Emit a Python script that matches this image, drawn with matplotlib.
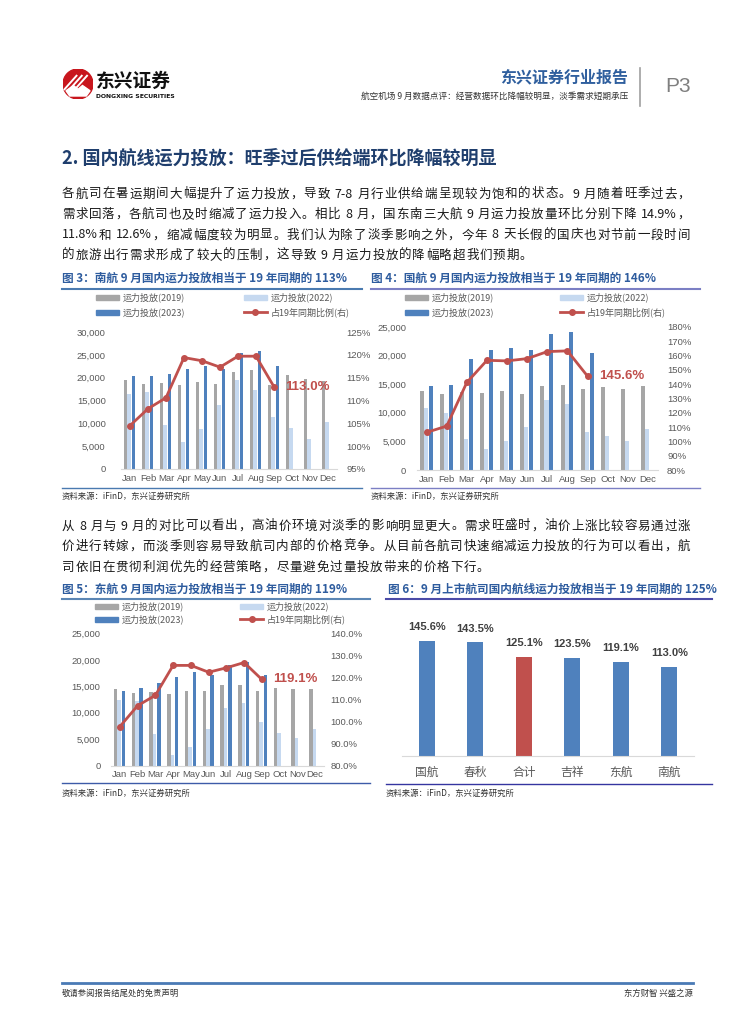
import re
import numpy as np
import matplotlib
matplotlib.use('Agg')
import matplotlib.pyplot as plt
from matplotlib.patches import Circle, Rectangle
from matplotlib.lines import Line2D

plt.rcParams['font.family'] = ['Noto Sans CJK SC', 'DejaVu Sans']

# ---- data ----
months = ['Jan', 'Feb', 'Mar', 'Apr', 'May', 'Jun', 'Jul', 'Aug', 'Sep', 'Oct', 'Nov', 'Dec']

# 南航
csa_2019 = [19500, 18700, 18900, 18300, 19000, 18700, 21200, 21600, 18500, 20600, 19600, 19300]
csa_2022 = [16500, 16800, 9600, 6000, 8700, 14000, 19500, 17200, 11400, 8900, 6600, 10200]
csa_2023 = [20300, 20300, 20700, 21800, 22600, 21800, 25500, 25800, 22500]
csa_ratio = [104.5, 108.2, 110.6, 119.4, 118.7, 117.3, 119.7, 119.7, 113.0]

# 国航
ca_2019 = [13800, 13250, 13700, 13400, 13800, 13300, 14600, 14800, 14100, 14500, 14100, 14600]
ca_2022 = [10800, 10000, 5500, 3600, 5000, 7600, 12300, 11500, 6700, 6000, 5100, 7100]
ca_2023 = [14600, 14800, 19400, 20900, 21400, 20900, 23700, 24100, 20400]
ca_ratio = [106.3, 110.7, 141.2, 156.7, 156.3, 157.9, 162.8, 163.3, 145.6]

# 东航
mu_2019 = [14550, 13700, 13850, 13500, 14200, 14100, 15300, 15300, 14200, 14700, 14400, 14400]
mu_2022 = [12400, 12150, 6000, 2000, 3500, 6900, 10800, 11800, 8250, 6100, 5200, 6900]
mu_2023 = [14200, 14700, 15600, 16700, 17800, 17100, 19000, 19600, 17100]
mu_ratio = [97.7, 107.2, 111.9, 125.5, 125.5, 122.4, 124.4, 126.8, 119.1]

# 9月各航司
airlines = ['国航', '春秋', '合计', '吉祥', '东航', '南航']
sep_ratio = [145.6, 143.5, 125.1, 123.5, 119.1, 113.0]

legend_labels = ['运力投放(2019)', '运力投放(2022)', '运力投放(2023)', '占19年同期比例(右)']

para1 = ['各航司在暑运期间大幅提升了运力投放，导致 7-8 月行业供给端呈现较为饱和的状态。9 月随着旺季过去，',
         '需求回落，各航司也及时缩减了运力投入。相比 8 月，国东南三大航 9 月运力投放量环比分别下降 14.9%，',
         '11.8%和 12.6%，缩减幅度较为明显。我们认为除了淡季影响之外，今年 8 天长假的国庆也对节前一段时间',
         '的旅游出行需求形成了较大的压制，这导致 9 月运力投放的降幅略超我们预期。']
para2 = ['从 8 月与 9 月的对比可以看出，高油价环境对淡季的影响明显更大。需求旺盛时，油价上涨比较容易通过涨',
         '价进行转嫁，而淡季则容易导致航司内部的价格竞争。从目前各航司快速缩减运力投放的行为可以看出，航',
         '司依旧在贯彻利润优先的经营策略，尽量避免过量投放带来的价格下行。']

C19, C22, C23, RED = '#A6A6A6', '#C6D9F0', '#4F81BD', '#C0504D'
TITLE_C = '#2E5C9E'
GREY_T = '#595959'

W, H = 755, 1024
fig = plt.figure(figsize=(7.55, 10.24), dpi=100)
renderer = fig.canvas.get_renderer()


def fx(x):
    return x / W


def fy(y):
    return 1 - y / H


def txt(x, y, s, **kw):
    return fig.text(fx(x), fy(y), s, **kw)


def hline(x0, x1, y, color, lw=1.0):
    fig.add_artist(Line2D([fx(x0), fx(x1)], [fy(y), fy(y)], color=color, lw=lw))


def axes_px(x0, x1, y0, y1):
    return fig.add_axes([fx(x0), fy(y1), (x1 - x0) / W, (y1 - y0) / H])


def body_line(s, y, x0=62, x1=None, gap=2.0, size=9):
    # spread tokens so the line fills x0..x1 like the justified original
    toks = re.findall(r'[0-9A-Za-z.%\-]+| |.', s)
    ts = [txt(x0, y, t, fontsize=size, va='center', color='#1a1a1a') for t in toks]
    ws = [t.get_window_extent(renderer).width for t in ts]
    if x1 is not None:
        gap = (x1 - x0 - sum(ws)) / (len(ts) - 1)
    x = x0
    for t, w in zip(ts, ws):
        t.set_x(fx(x))
        x += w + gap
    return gap


def legend_px(xa, xb, ya, yb):
    spots = [(xa, ya), (xb, ya), (xa, yb), (xb, yb)]
    for i, ((x, y), lab) in enumerate(zip(spots, legend_labels)):
        if i < 3:
            fig.add_artist(Rectangle((fx(x), fy(y + 2.5)), 23 / W, 5 / H,
                                     color=[C19, C22, C23][i], transform=fig.transFigure))
        else:
            fig.add_artist(Line2D([fx(x), fx(x + 23)], [fy(y), fy(y)], color=RED, lw=2))
            fig.add_artist(Line2D([fx(x + 11.5)], [fy(y)], color=RED, marker='o', ms=4))
        txt(x + 27, y, lab, fontsize=6.5, color=GREY_T, va='center')


def capacity_chart(box, v19, v22, v23, ratio, ymax, rlim, rstep, rfmt, lpad, rpad):
    ax = axes_px(*box)
    x = np.arange(12)
    ax.bar(x - 0.24, v19, 0.2, color=C19)
    ax.bar(x - 0.04, v22, 0.2, color=C22)
    ax.bar(np.arange(len(v23)) + 0.2, v23, 0.2, color=C23)
    ax.set_xlim(-0.5, 11.5)
    ax.set_ylim(0, ymax)
    ax.set_yticks(np.arange(0, ymax + 1, 5000))
    ax.yaxis.set_major_formatter(lambda v, p: f'{v:,.0f}')
    ax.set_xticks(x, months)

    ax2 = ax.twinx()
    ax2.plot(np.arange(len(ratio)), ratio, color=RED, lw=2, marker='o', ms=4)
    ax2.set_ylim(*rlim)
    ax2.set_yticks(np.arange(rlim[0], rlim[1] + 0.01, rstep))
    ax2.yaxis.set_major_formatter(lambda v, p: rfmt.format(v))
    ax2.annotate(f'{ratio[-1]:.1f}%', (len(ratio) - 1, ratio[-1]), xytext=(8, 0),
                 textcoords='offset points', ha='left', va='center', color=RED,
                 fontweight='bold', fontsize=9.5, family='Liberation Sans')

    for a in (ax, ax2):
        for s in a.spines.values():
            s.set_visible(False)
        a.tick_params(length=0, labelsize=6.8, labelcolor=GREY_T)
        for lab in a.get_xticklabels() + a.get_yticklabels():
            lab.set_fontfamily('Liberation Sans')
    ax.spines['bottom'].set_visible(True)
    ax.spines['bottom'].set_color('#D9D9D9')
    ax.tick_params(axis='y', pad=lpad)
    ax.tick_params(axis='x', pad=3.5)
    ax2.tick_params(axis='y', pad=rpad)
    return ax


# ---- page header ----
lax = axes_px(63, 93, 69, 99)
lax.set_xlim(-1, 1)
lax.set_ylim(-1, 1)
lax.set_aspect('equal')
lax.axis('off')
lax.add_patch(Circle((0, 0), 1, color='#C8161D'))
for d in (-0.35, 0.0, 0.35):
    lax.plot([-0.55 + d, 0.25 + d], [-0.35, 0.55], color='white', lw=1.4)
lax.fill([-0.8, -0.3, 0.0, 0.3, 0.8, 0.55, -0.55], [-0.45, -0.1, -0.35, -0.1, -0.45, -0.8, -0.8],
         color='white')
txt(96, 81, '东兴证券', fontsize=13.5, fontweight='bold', color='#111111', va='center')
txt(96, 96.5, 'DONGXING SECURITIES', fontsize=4.4, fontweight='bold', color='#111111',
    va='center', family='DejaVu Sans')

txt(628, 77, '东兴证券行业报告', fontsize=11.5, fontweight='bold', color='#2F5F9E', ha='right', va='center')
txt(628, 96, '航空机场 9 月数据点评：经营数据环比降幅较明显，淡季需求短期承压', fontsize=6.2,
    color='#333333', ha='right', va='center')
fig.add_artist(Line2D([fx(640), fx(640)], [fy(68), fy(106)], color='#A0A0A0', lw=1.2))
txt(665, 86, 'P3', fontsize=15, color='#7F7F7F', va='center', family='Liberation Sans')

# ---- heading and text ----
txt(62, 158, '2. 国内航线运力投放：旺季过后供给端环比降幅较明显', fontsize=13,
    fontweight='bold', color='#1F3E6D', va='center')

g = 0
for i, (s, y) in enumerate(zip(para1, [194, 214.5, 235, 255.5])):
    g = body_line(s, y, x1=690 if i < 3 else None, gap=g)
for i, (s, y) in enumerate(zip(para2, [526, 546.5, 567])):
    g = body_line(s, y, x1=690 if i < 2 else None, gap=g)

# ---- figure titles / rules / sources ----
txt(62, 278, '图 3：南航 9 月国内运力投放相当于 19 年同期的 113%', fontsize=8.4,
    fontweight='bold', color=TITLE_C, va='center')
txt(371, 278, '图 4：国航 9 月国内运力投放相当于 19 年同期的 146%', fontsize=8.4,
    fontweight='bold', color=TITLE_C, va='center')
txt(62, 589, '图 5：东航 9 月国内运力投放相当于 19 年同期的 119%', fontsize=8.4,
    fontweight='bold', color=TITLE_C, va='center')
txt(388, 589, '图 6：9 月上市航司国内航线运力投放相当于 19 年同期的 125%', fontsize=8.4,
    fontweight='bold', color=TITLE_C, va='center')
hline(62, 362, 289, '#4A7AB0', 1.5)
hline(371, 700, 289, '#7B7FC4', 1.5)
hline(62, 370, 599, '#5B86B5', 1.5)
hline(386, 712, 599, '#4B4BA8', 1.5)
hline(62, 362, 488, '#4A7AB0', 1.0)
hline(371, 700, 488, '#7B7FC4', 1.0)
hline(62, 370, 783, '#3D5BA8', 1.0)
hline(386, 712, 784, '#3535A0', 1.0)
for x, y in [(62, 496), (371, 496), (62, 793), (386, 793)]:
    txt(x, y, '资料来源：iFinD，东兴证券研究所', fontsize=6, color='#333333', va='center',
        style='italic')

# ---- charts 3, 4, 5 ----
legend_px(96, 244, 297, 312)
capacity_chart((121, 337, 332, 469), csa_2019, csa_2022, csa_2023, csa_ratio,
               30000, (95, 125), 5, '{:.0f}%', 11, 6.5)
legend_px(405, 560, 297, 312)
capacity_chart((416.5, 658, 327, 470), ca_2019, ca_2022, ca_2023, ca_ratio,
               25000, (80, 180), 10, '{:.0f}%', 7.5, 6.5)
legend_px(95, 240, 606, 619)
capacity_chart((111, 324, 633.5, 765.5), mu_2019, mu_2022, mu_2023, mu_ratio,
               25000, (80, 140), 10, '{:.1f}%', 7.5, 4.5)

# ---- chart 6 ----
ax6 = axes_px(402.5, 693.5, 612, 756)
cols = [RED if a == '合计' else C23 for a in airlines]
xs = np.arange(len(airlines))
ax6.bar(xs, sep_ratio, 0.32, color=cols)
for i, v in enumerate(sep_ratio):
    ax6.annotate(f'{v:.1f}%', (i, v), xytext=(0, 10), textcoords='offset points',
                 ha='center', va='center', fontweight='bold', fontsize=8, color='#404040',
                 family='Liberation Sans')
ax6.set_xlim(-0.5, 5.5)
ax6.set_ylim(0, 182)
ax6.set_yticks([])
ax6.set_xticks(xs, airlines)
ax6.tick_params(length=0, labelsize=8.5, labelcolor=GREY_T, pad=7)
for s in ax6.spines.values():
    s.set_visible(False)
ax6.spines['bottom'].set_visible(True)
ax6.spines['bottom'].set_color('#D9D9D9')

# ---- footer ----
hline(62, 693, 983, '#4A7AB5', 2)
txt(62, 993, '敬请参阅报告结尾处的免责声明', fontsize=6, color='#333333', va='center')
txt(693, 993, '东方财智 兴盛之源', fontsize=6, color='#333333', va='center', ha='right')

fig.savefig('out.png', dpi=100)
